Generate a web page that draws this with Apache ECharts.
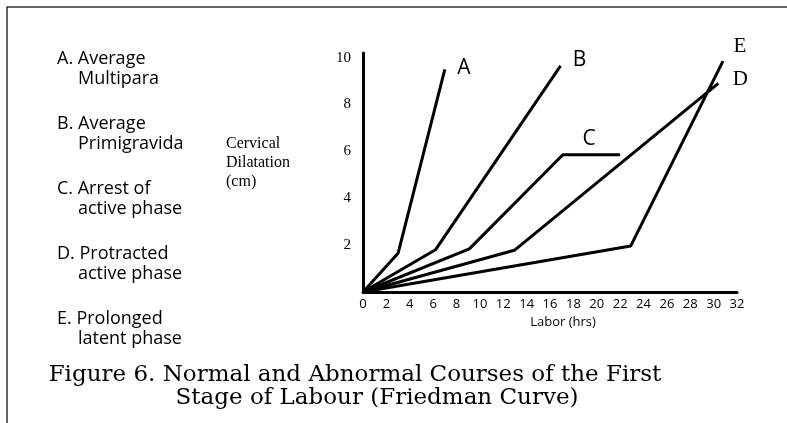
<!DOCTYPE html>
<html>
<head>
<meta charset="utf-8">
<script src="https://cdn.jsdelivr.net/npm/echarts@6/dist/echarts.min.js"></script>
<style>
  html, body { margin: 0; padding: 0; background: #fff; }
  #main { width: 787px; height: 423px; }
</style>
</head>
<body>
<div id="main"></div>
<script>
// curve letters and their legend text (two lines each)
var curveNames = ['A', 'B', 'C', 'D', 'E'];
var curveDescs = [
  ['Average', 'Multipara'],
  ['Average', 'Primigravida'],
  ['Arrest of', 'active phase'],
  ['Protracted', 'active phase'],
  ['Prolonged', 'latent phase']
];
// [labor hrs, cervical dilatation cm] at each corner of the curves
var curveA = [[0, 0], [3, 1.65], [7, 9.5]];
var curveB = [[0, 0], [6.2, 1.8], [16.9, 9.65]];
var curveC = [[0, 0], [9.1, 1.84], [17.1, 5.86], [22, 5.86]];
var curveD = [[0, 0], [12.95, 1.78], [30.4, 8.9]];
var curveE = [[0, 0], [22.9, 1.96], [30.8, 9.85]];
var xTicks = [0, 2, 4, 6, 8, 10, 12, 14, 16, 18, 20, 22, 24, 26, 28, 30, 32];
var yTicks = [2, 4, 6, 8, 10];

var sansFont = '"Open Sans", sans-serif';
var serifFont = '"DejaVu Serif", serif';
var timesFont = '"Liberation Serif", serif';

function curve(name, pts, off, font) {
  var last = pts.length - 1;
  var data = pts.map(function (p, i) {
    if (i < last) return p;
    return {
      value: p,
      label: {
        show: true,
        formatter: name,
        position: 'inside',
        offset: off,
        color: '#000',
        fontFamily: font,
        fontSize: 21
      }
    };
  });
  return {
    name: name,
    type: 'line',
    data: data,
    symbol: 'circle',
    symbolSize: 0,
    showSymbol: true,
    silent: true,
    lineStyle: { color: '#000', width: 3 },
    itemStyle: { color: '#000' },
    emphasis: { disabled: true }
  };
}

var graphics = [
  // frame: top and left rules
  {
    type: 'polyline',
    shape: { points: [[7, 423], [7, 7], [787, 7]] },
    style: { stroke: '#333', lineWidth: 1.5, fill: null },
    silent: true
  }
];
curveNames.forEach(function (n, i) {
  var y = 59 + i * 65;
  graphics.push({
    type: 'text', x: 57, y: y,
    style: { text: n + '. ' + curveDescs[i][0], font: '18px ' + sansFont, fill: '#000', verticalAlign: 'middle' }
  });
  graphics.push({
    type: 'text', x: 78, y: y + 20,
    style: { text: curveDescs[i][1], font: '18px ' + sansFont, fill: '#000', verticalAlign: 'middle' }
  });
});
graphics.push({
  type: 'text', x: 355, y: 375,
  style: { text: 'Figure 6. Normal and Abnormal Courses of the First', font: '23px ' + serifFont, fill: '#000', align: 'center', verticalAlign: 'middle' }
});
graphics.push({
  type: 'text', x: 377, y: 398,
  style: { text: 'Stage of Labour (Friedman Curve)', font: '23px ' + serifFont, fill: '#000', align: 'center', verticalAlign: 'middle' }
});

var chart = echarts.init(document.getElementById('main'));
chart.setOption({
  animation: false,
  backgroundColor: '#fff',
  grid: { left: 363, right: 50, top: 53, bottom: 131 },
  xAxis: {
    type: 'value',
    min: 0,
    max: 32,
    name: 'Labor (hrs)',
    nameLocation: 'middle',
    nameGap: 23,
    nameTextStyle: { color: '#000', fontFamily: sansFont, fontSize: 13, padding: [0, 0, 0, 26] },
    axisLine: { lineStyle: { color: '#000', width: 3 } },
    axisTick: { show: false },
    splitLine: { show: false },
    axisLabel: { customValues: xTicks, color: '#000', fontFamily: sansFont, fontSize: 13, margin: 6 }
  },
  yAxis: {
    type: 'value',
    min: 0,
    max: 10.2,
    name: 'Cervical\nDilatation\n(cm)\n',
    nameLocation: 'middle',
    nameRotate: 0,
    nameGap: 137,
    nameTextStyle: { color: '#000', fontFamily: timesFont, fontSize: 16, lineHeight: 19, align: 'left', verticalAlign: 'middle' },
    axisLine: { show: true, lineStyle: { color: '#000', width: 3 } },
    axisTick: { show: false },
    splitLine: { show: false },
    axisLabel: { customValues: yTicks, color: '#000', fontFamily: timesFont, fontSize: 15, margin: 12 }
  },
  series: [
    curve(curveNames[0], curveA, [19, -1], sansFont),
    curve(curveNames[1], curveB, [19, -6], sansFont),
    curve(curveNames[2], curveC, [-31, -16], sansFont),
    curve(curveNames[3], curveD, [22, -4], timesFont),
    curve(curveNames[4], curveE, [17, -15], timesFont)
  ],
  graphic: graphics
});
</script>
</body>
</html>
